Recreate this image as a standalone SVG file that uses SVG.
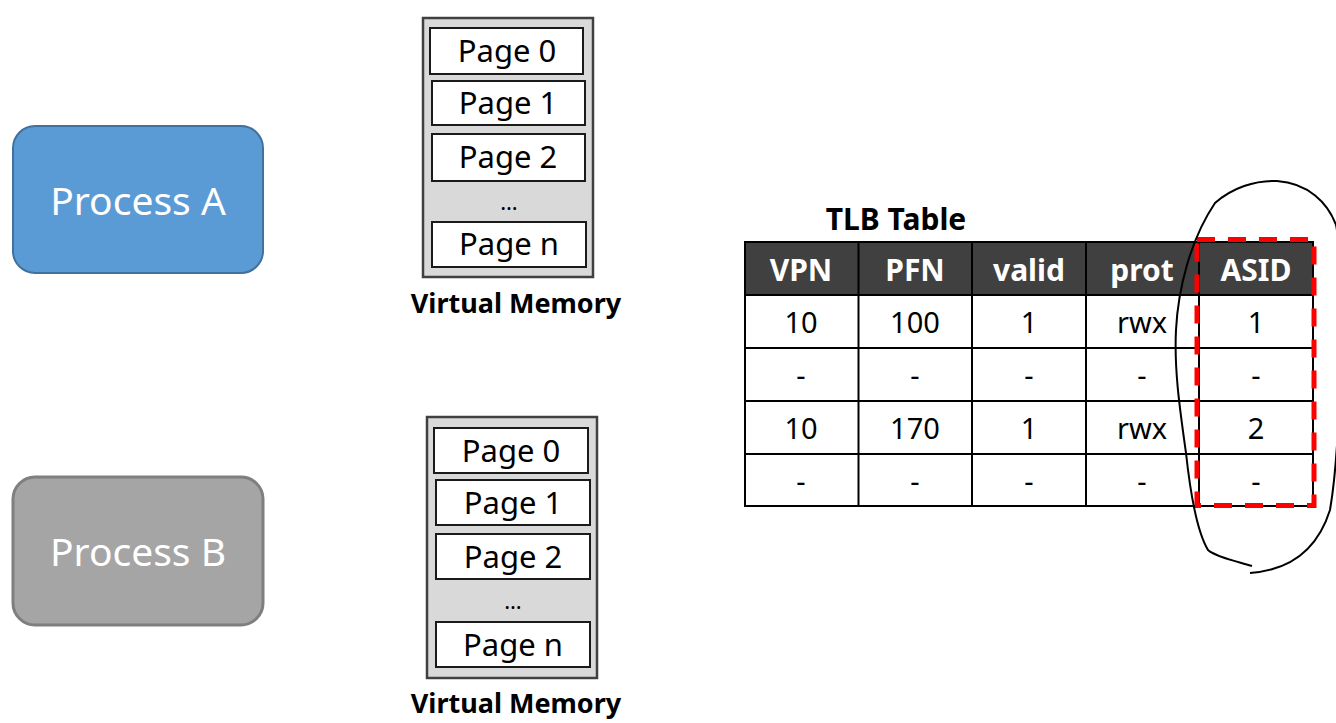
<svg xmlns="http://www.w3.org/2000/svg" width="1336" height="723" viewBox="0 0 1336 723">
<style>
text{font-family:"Noto Sans","Open Sans","DejaVu Sans",sans-serif;}
.proc{font-size:39px;fill:#FFFFFF;text-anchor:middle;}
.vm{fill:#D9D9D9;stroke:#404040;stroke-width:2.5;}
.pg{fill:#FFFFFF;stroke:#1a1a1a;stroke-width:2;}
.pt{font-size:31px;fill:#000;text-anchor:middle;}
.dots{font-size:22px;fill:#000;text-anchor:middle;}
.cap{font-size:27px;font-weight:bold;fill:#000;text-anchor:middle;}
.hd{font-size:30px;font-weight:bold;fill:#FFFFFF;text-anchor:middle;}
.cell{font-size:29px;fill:#000;text-anchor:middle;}
.grid{stroke:#000;stroke-width:2;fill:none;}
</style>
<rect width="1336" height="723" fill="#FFFFFF"/>

<g id="processA">
<rect x="13" y="126" width="250" height="147" rx="22" fill="#5B9BD5" stroke="#41719C" stroke-width="2"/>
<text class="proc" x="138" y="215">Process A</text>
</g>

<g id="processB">
<rect x="13" y="477" width="250" height="148" rx="22" fill="#A5A5A5" stroke="#7F7F7F" stroke-width="3"/>
<text class="proc" x="138" y="566" fill="#F2F2F2">Process B</text>
</g>

<g id="vmA">
<rect class="vm" x="423" y="18" width="170" height="259"/>
<rect class="pg" x="430" y="28" width="153" height="46"/>
<text class="pt" x="507" y="62">Page 0</text>
<rect class="pg" x="432" y="81" width="153" height="44"/>
<text class="pt" x="508" y="114">Page 1</text>
<rect class="pg" x="432" y="134" width="153" height="47"/>
<text class="pt" x="508" y="168">Page 2</text>
<text class="dots" x="509" y="210">…</text>
<rect class="pg" x="432" y="222" width="154" height="45"/>
<text class="pt" x="509" y="255">Page n</text>
<text class="cap" x="516" y="313">Virtual Memory</text>
</g>

<g id="vmB">
<rect class="vm" x="427" y="417" width="170" height="261"/>
<rect class="pg" x="434" y="428" width="154" height="45"/>
<text class="pt" x="511" y="462">Page 0</text>
<rect class="pg" x="436" y="480" width="154" height="45"/>
<text class="pt" x="513" y="514">Page 1</text>
<rect class="pg" x="436" y="534" width="154" height="45"/>
<text class="pt" x="513" y="568">Page 2</text>
<text class="dots" x="513" y="609">…</text>
<rect class="pg" x="436" y="622" width="154" height="45"/>
<text class="pt" x="513" y="656">Page n</text>
<text class="cap" x="516" y="713">Virtual Memory</text>
</g>

<g id="tlb">
<text x="896" y="230" font-size="30" font-weight="bold" text-anchor="middle" fill="#000">TLB Table</text>
<rect x="745" y="242" width="568" height="53" fill="#404040"/>
<rect x="745" y="295" width="568" height="211" fill="#FFFFFF"/>
<rect class="grid" x="745" y="242" width="568" height="264"/>
<line class="grid" x1="745" y1="295" x2="1313" y2="295"/>
<line class="grid" x1="745" y1="348" x2="1313" y2="348"/>
<line class="grid" x1="745" y1="401" x2="1313" y2="401"/>
<line class="grid" x1="745" y1="454" x2="1313" y2="454"/>
<line class="grid" x1="858.5" y1="242" x2="858.5" y2="506"/>
<line class="grid" x1="972" y1="242" x2="972" y2="506"/>
<line class="grid" x1="1086" y1="242" x2="1086" y2="506"/>
<line class="grid" x1="1199" y1="242" x2="1199" y2="506"/>
<text class="hd" x="801" y="281">VPN</text>
<text class="hd" x="915" y="281">PFN</text>
<text class="hd" x="1029" y="281">valid</text>
<text class="hd" x="1142" y="281">prot</text>
<text class="hd" x="1256" y="281">ASID</text>
<text class="cell" x="801" y="333">10</text>
<text class="cell" x="915" y="333">100</text>
<text class="cell" x="1029" y="333">1</text>
<text class="cell" x="1142" y="333">rwx</text>
<text class="cell" x="1256" y="333">1</text>
<text class="cell" x="801" y="386">-</text>
<text class="cell" x="915" y="386">-</text>
<text class="cell" x="1029" y="386">-</text>
<text class="cell" x="1142" y="386">-</text>
<text class="cell" x="1256" y="386">-</text>
<text class="cell" x="801" y="439">10</text>
<text class="cell" x="915" y="439">170</text>
<text class="cell" x="1029" y="439">1</text>
<text class="cell" x="1142" y="439">rwx</text>
<text class="cell" x="1256" y="439">2</text>
<text class="cell" x="801" y="492">-</text>
<text class="cell" x="915" y="492">-</text>
<text class="cell" x="1029" y="492">-</text>
<text class="cell" x="1142" y="492">-</text>
<text class="cell" x="1256" y="492">-</text>
</g>

<g id="highlight">
<rect x="1197" y="239.5" width="117" height="266" fill="none" stroke="#FF0000" stroke-width="5" stroke-dasharray="18 13"/>
<path d="M1252 566 C1235 561 1216 557 1208 550 C1196 530 1190 490 1186 453 C1180 410 1174 370 1176 330 C1178 290 1190 240 1215 203 C1232 188 1255 180 1277 181 C1308 183 1328 203 1336 225 C1344 260 1342 440 1330 510 C1318 548 1292 570 1250 573" fill="none" stroke="#000" stroke-width="2"/>
</g>
</svg>
